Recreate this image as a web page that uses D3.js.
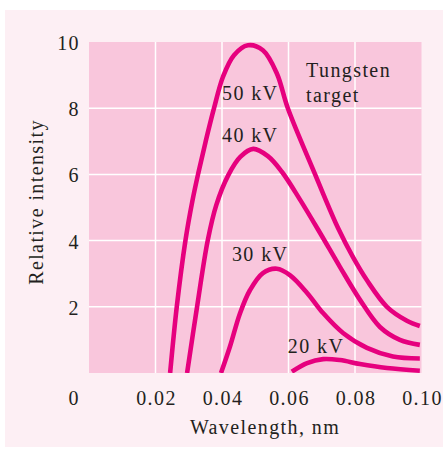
<!DOCTYPE html>
<html lang="en">
<head>
  <meta charset="UTF-8">
  <title>X-ray spectrum, tungsten target</title>
  <script src="https://d3js.org/d3.v7.min.js"></script>
  <style>
    body { margin: 0; background: #fff; }
    svg { display: block; }
    text { font-family: "Liberation Serif", "Times New Roman", serif; font-size: 20px; fill: #231f20; letter-spacing: 1.4px; }
  </style>
</head>
<body>
  <svg id="chart" width="443" height="450"></svg>

  <script>
    // wavelength (nm), relative intensity
    const kv50 = [[0.0244, 0], [0.0264, 2.0], [0.0290, 4.0], [0.0311, 5.2], [0.0329, 6.05], [0.0351, 7.0],
      [0.0376, 8.0], [0.0403, 8.95], [0.0436, 9.6], [0.0478, 9.9], [0.0523, 9.75], [0.0565, 9.05],
      [0.0598, 8.0], [0.068, 6.0], [0.0704, 5.42], [0.0749, 4.38], [0.0794, 3.5], [0.0836, 2.8],
      [0.0896, 2.0], [0.0956, 1.58], [0.0995, 1.42]];
    const kv40 = [[0.0295, 0], [0.0325, 2.0], [0.0357, 4.0], [0.0383, 5.08], [0.0419, 5.98], [0.0455, 6.53],
      [0.0494, 6.77], [0.0538, 6.55], [0.0580, 6.08], [0.0635, 5.23], [0.0695, 4.23], [0.0755, 3.2],
      [0.0815, 2.21], [0.0875, 1.39], [0.0935, 1.0], [0.0995, 0.85]];
    const kv30 = [[0.0397, 0], [0.0424, 0.8], [0.0454, 1.8], [0.0484, 2.5], [0.0523, 3.02], [0.0565, 3.15],
      [0.0605, 2.95], [0.0656, 2.42], [0.0704, 1.81], [0.0764, 1.21], [0.0836, 0.76], [0.0914, 0.5],
      [0.0995, 0.44]];
    const kv20 = [[0.061, 0.04], [0.0656, 0.3], [0.0704, 0.42], [0.0755, 0.39], [0.0815, 0.27],
      [0.0896, 0.15], [0.0995, 0.07]];
    const series = [kv50, kv40, kv30, kv20];

    const xTicks = [0.02, 0.04, 0.06, 0.08, 0.10];
    const yTicks = [2, 4, 6, 8, 10];
    const labels = [
      { text: "50 kV", x: 0.040, y: 8.25 },
      { text: "40 kV", x: 0.040, y: 6.98 },
      { text: "30 kV", x: 0.043, y: 3.38 },
      { text: "20 kV", x: 0.0598, y: 0.6 },
      { text: "Tungsten", x: 0.0653, y: 8.94 },
      { text: "target", x: 0.0653, y: 8.2 }
    ];

    const plotL = 89, plotR = 421.5, plotT = 42, plotB = 373;

    const svg = d3.select("#chart");

    // outer panel
    svg.append("rect")
      .attr("x", 5).attr("y", 10)
      .attr("width", 438).attr("height", 437)
      .attr("fill", "#fdeff4");

    const x = d3.scaleLinear().domain([0, 0.10]).range([plotL, plotR]);
    const y = d3.scaleLinear().domain([0, 10]).range([plotB, plotT]);

    svg.append("rect")
      .attr("x", plotL).attr("y", plotT)
      .attr("width", plotR - plotL).attr("height", plotB - plotT)
      .attr("fill", "#f9c6dc");

    // grid
    svg.append("g").selectAll("line")
      .data(xTicks.slice(0, -1))
      .join("line")
      .attr("x1", d => x(d)).attr("x2", d => x(d))
      .attr("y1", plotT).attr("y2", plotB)
      .attr("stroke", "#fff").attr("stroke-width", 1.5);

    svg.append("g").selectAll("line")
      .data(yTicks.slice(0, -1))
      .join("line")
      .attr("x1", plotL).attr("x2", plotR)
      .attr("y1", d => y(d)).attr("y2", d => y(d))
      .attr("stroke", "#fff").attr("stroke-width", 1.5);

    svg.append("clipPath").attr("id", "plotClip")
      .append("rect")
      .attr("x", plotL).attr("y", plotT - 10)
      .attr("width", plotR - plotL).attr("height", plotB - plotT + 10);

    const line = d3.line()
      .x(d => x(d[0]))
      .y(d => y(d[1]))
      .curve(d3.curveCatmullRom.alpha(0.5));

    svg.append("g").attr("clip-path", "url(#plotClip)")
      .selectAll("path")
      .data(series)
      .join("path")
      .attr("d", line)
      .attr("fill", "none")
      .attr("stroke", "#e6007e")
      .attr("stroke-width", 4.6);

    // tick labels
    svg.append("g").selectAll("text")
      .data(yTicks)
      .join("text")
      .attr("x", plotL - 9).attr("y", d => y(d) + 8)
      .attr("text-anchor", "end")
      .text(d => d);

    svg.append("text")
      .attr("x", plotL - 9).attr("y", 405)
      .attr("text-anchor", "end")
      .text("0");

    svg.append("g").selectAll("text")
      .data(xTicks)
      .join("text")
      .attr("x", d => x(d) + 1).attr("y", 405)
      .attr("text-anchor", "middle")
      .text(d => d.toFixed(2));

    // axis titles
    svg.append("text")
      .attr("x", 265).attr("y", 434)
      .attr("text-anchor", "middle")
      .text("Wavelength, nm");

    svg.append("text")
      .attr("transform", "translate(43,202) rotate(-90)")
      .attr("text-anchor", "middle")
      .text("Relative intensity");

    // curve annotations
    svg.append("g").selectAll("text")
      .data(labels)
      .join("text")
      .attr("x", d => x(d.x)).attr("y", d => y(d.y))
      .text(d => d.text);
  </script>
</body>
</html>
